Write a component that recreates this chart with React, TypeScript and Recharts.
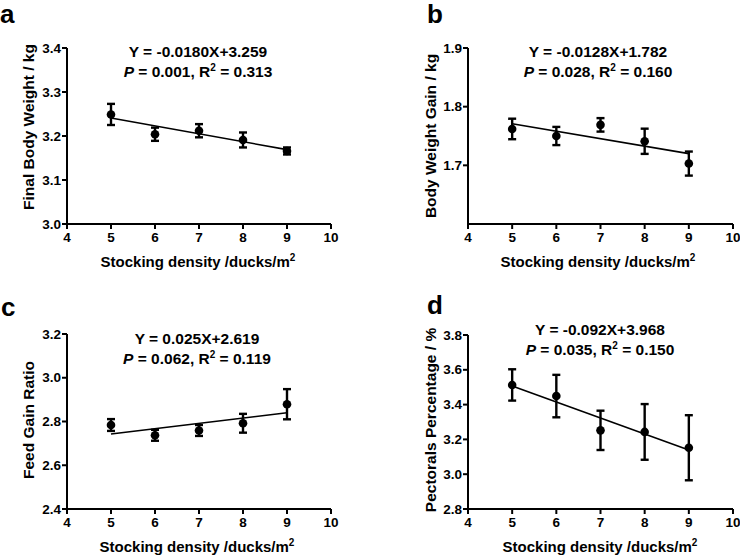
import React from 'react';
import { ComposedChart, Scatter, Line, XAxis, YAxis, ErrorBar } from 'recharts';

const density = [5, 6, 7, 8, 9];
const xTicks = [4, 5, 6, 7, 8, 9, 10];

// a: final body weight
const weightMean = [3.249, 3.204, 3.212, 3.191, 3.166];
const weightErr = [0.024, 0.015, 0.015, 0.017, 0.008];
const weightFit = [3.241, 3.169];

// b: body weight gain
const gainMean = [1.762, 1.75, 1.769, 1.741, 1.703];
const gainErr = [0.0175, 0.0155, 0.0115, 0.0215, 0.0205];
const gainFit = [1.771, 1.72];

// c: feed gain ratio
const ratioMean = [2.784, 2.737, 2.759, 2.792, 2.879];
const ratioErr = [0.027, 0.025, 0.025, 0.043, 0.069];
const ratioFit = [2.743, 2.84];

// d: pectorals percentage
const pectMean = [3.513, 3.449, 3.252, 3.243, 3.152];
const pectErr = [0.09, 0.122, 0.113, 0.16, 0.187];
const pectFit = [3.507, 3.139];

const fitX = [5, 9];

const font = '"Liberation Sans", Arial, sans-serif';

const points = (mean: number[], err: number[]) =>
  density.map((x, i) => ({ x, y: mean[i], err: err[i] }));
const fitLine = (fit: number[]) => fitX.map((x, i) => ({ x, y: fit[i] }));

type PanelProps = {
  left: number;
  top: number;
  width: number;
  margin: { top: number; right: number; bottom: number; left: number };
  mean: number[];
  err: number[];
  fit: number[];
  domain: [number, number];
  yTicks: number[];
  yLabel: string;
  letter: string;
  letterPos: [number, number];
  eq1: string;
  eq2: [string, string];
  eqX: number;
  eqY: number;
  yLabelX: number;
  yLabelY: number;
  xLabelY: number;
};

const tickText = { fontFamily: font, fontWeight: 700, fontSize: 13.5, fill: '#000' };

const XTick = (t: any) => (
  <text x={t.x} y={t.y} dy={11} textAnchor="middle" style={tickText}>
    {t.payload.value}
  </text>
);

const YTick = (t: any) => (
  <text x={t.x} y={t.y} dy={4.5} textAnchor="end" style={tickText}>
    {Number(t.payload.value).toFixed(1)}
  </text>
);

function Panel(p: PanelProps) {
  const data = points(p.mean, p.err);
  return (
    <>
      <div style={{ position: 'absolute', left: p.left, top: p.top }}>
        <ComposedChart width={p.width} height={278} margin={p.margin}>
          <XAxis
            type="number"
            dataKey="x"
            domain={[4, 10]}
            ticks={xTicks}
            interval={0}
            tickSize={5}
            tickMargin={2}
            height={30}
            stroke="#000"
            strokeWidth={2}
            tick={XTick}
            allowDataOverflow
          />
          <YAxis
            type="number"
            dataKey="y"
            domain={p.domain}
            ticks={p.yTicks}
            interval={0}
            tickSize={5}
            tickMargin={1}
            width={40}
            stroke="#000"
            strokeWidth={2}
            tick={YTick}
            allowDataOverflow
          />
          <Line
            data={fitLine(p.fit)}
            dataKey="y"
            stroke="#000"
            strokeWidth={1.6}
            dot={false}
            isAnimationActive={false}
          />
          <Scatter
            data={data}
            dataKey="y"
            fill="#000"
            isAnimationActive={false}
            shape={(s: any) => <circle cx={s.cx} cy={s.cy} r={4.3} fill="#000" />}
          >
            <ErrorBar dataKey="err" direction="y" width={4} strokeWidth={2.4} stroke="#000" />
          </Scatter>
        </ComposedChart>
      </div>
      <div
        style={{
          position: 'absolute',
          left: p.letterPos[0],
          top: p.letterPos[1],
          fontSize: 26,
          fontWeight: 700,
          lineHeight: '26px',
          fontFamily: font,
        }}
      >
        {p.letter}
      </div>
      <div
        style={{
          position: 'absolute',
          left: p.eqX - 120,
          top: p.eqY,
          width: 240,
          textAlign: 'center',
          fontSize: 15.5,
          fontWeight: 700,
          lineHeight: '20px',
          fontFamily: font,
        }}
      >
        <div>{p.eq1}</div>
        <div>
          <i>P</i>
          {p.eq2[0]}, R<sup style={{ fontSize: 10, lineHeight: 0 }}>2</sup>
          {p.eq2[1]}
        </div>
      </div>
      <div
        style={{
          position: 'absolute',
          left: p.yLabelX,
          top: p.yLabelY,
          transform: 'translate(-50%, -50%) rotate(-90deg)',
          whiteSpace: 'nowrap',
          fontSize: 15.5,
          fontWeight: 700,
          fontFamily: font,
        }}
      >
        {p.yLabel}
      </div>
      <div
        style={{
          position: 'absolute',
          left: p.eqX - 150,
          top: p.xLabelY,
          width: 300,
          textAlign: 'center',
          fontSize: 15,
          fontWeight: 700,
          lineHeight: '18px',
          fontFamily: font,
        }}
      >
        Stocking density /ducks/m<sup style={{ fontSize: 10, lineHeight: 0 }}>2</sup>
      </div>
    </>
  );
}

export default function App() {
  return (
    <div
      style={{
        position: 'absolute',
        left: 0,
        top: 0,
        width: 740,
        height: 556,
        overflow: 'hidden',
        background: '#fff',
      }}
    >
      <Panel
        left={0}
        top={0}
        width={370}
        margin={{ top: 48, right: 39, bottom: 24, left: 27 }}
        mean={weightMean}
        err={weightErr}
        fit={weightFit}
        domain={[3.0, 3.4]}
        yTicks={[3.0, 3.1, 3.2, 3.3, 3.4]}
        yLabel="Final Body Weight / kg"
        letter="a"
        letterPos={[0, 1]}
        eq1="Y = -0.0180X+3.259"
        eq2={[' = 0.001', ' = 0.313']}
        eqX={198}
        eqY={42}
        yLabelX={29}
        yLabelY={127}
        xLabelY={253}
      />
      <Panel
        left={370}
        top={0}
        width={380}
        margin={{ top: 48, right: 17, bottom: 24, left: 58 }}
        mean={gainMean}
        err={gainErr}
        fit={gainFit}
        domain={[1.6, 1.9]}
        yTicks={[1.7, 1.8, 1.9]}
        yLabel="Body Weight Gain / kg"
        letter="b"
        letterPos={[427, 1]}
        eq1="Y = -0.0128X+1.782"
        eq2={[' = 0.028', ' = 0.160']}
        eqX={598}
        eqY={42}
        yLabelX={431}
        yLabelY={136}
        xLabelY={253}
      />
      <Panel
        left={0}
        top={278}
        width={370}
        margin={{ top: 56, right: 39, bottom: 17, left: 27 }}
        mean={ratioMean}
        err={ratioErr}
        fit={ratioFit}
        domain={[2.4, 3.2]}
        yTicks={[2.4, 2.6, 2.8, 3.0, 3.2]}
        yLabel="Feed Gain Ratio"
        letter="c"
        letterPos={[1, 294]}
        eq1="Y = 0.025X+2.619"
        eq2={[' = 0.062', ' = 0.119']}
        eqX={197}
        eqY={329}
        yLabelX={29}
        yLabelY={420}
        xLabelY={538}
      />
      <Panel
        left={370}
        top={278}
        width={380}
        margin={{ top: 57, right: 17, bottom: 17, left: 58 }}
        mean={pectMean}
        err={pectErr}
        fit={pectFit}
        domain={[2.8, 3.8]}
        yTicks={[2.8, 3.0, 3.2, 3.4, 3.6, 3.8]}
        yLabel="Pectorals Percentage / %"
        letter="d"
        letterPos={[427, 292]}
        eq1="Y = -0.092X+3.968"
        eq2={[' = 0.035', ' = 0.150']}
        eqX={600}
        eqY={320}
        yLabelX={431}
        yLabelY={420}
        xLabelY={538}
      />
    </div>
  );
}
